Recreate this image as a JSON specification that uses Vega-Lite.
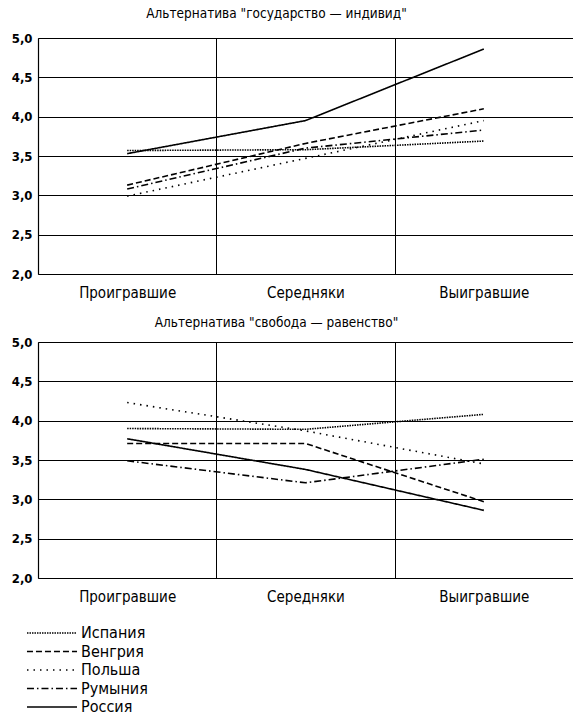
{
  "$schema": "https://vega.github.io/schema/vega-lite/v6.json",
  "padding": {"left": 11, "top": 6, "right": 0, "bottom": 0},
  "datasets": {
    "d": [
      {"alt": "top", "group": "Проигравшие", "country": "Испания", "value": 3.57},
      {"alt": "top", "group": "Середняки", "country": "Испания", "value": 3.58},
      {"alt": "top", "group": "Выигравшие", "country": "Испания", "value": 3.69},
      {"alt": "top", "group": "Проигравшие", "country": "Венгрия", "value": 3.13},
      {"alt": "top", "group": "Середняки", "country": "Венгрия", "value": 3.66},
      {"alt": "top", "group": "Выигравшие", "country": "Венгрия", "value": 4.10},
      {"alt": "top", "group": "Проигравшие", "country": "Польша", "value": 2.99},
      {"alt": "top", "group": "Середняки", "country": "Польша", "value": 3.47},
      {"alt": "top", "group": "Выигравшие", "country": "Польша", "value": 3.95},
      {"alt": "top", "group": "Проигравшие", "country": "Румыния", "value": 3.08},
      {"alt": "top", "group": "Середняки", "country": "Румыния", "value": 3.60},
      {"alt": "top", "group": "Выигравшие", "country": "Румыния", "value": 3.83},
      {"alt": "top", "group": "Проигравшие", "country": "Россия", "value": 3.53},
      {"alt": "top", "group": "Середняки", "country": "Россия", "value": 3.95},
      {"alt": "top", "group": "Выигравшие", "country": "Россия", "value": 4.86},
      {"alt": "bottom", "group": "Проигравшие", "country": "Испания", "value": 3.90},
      {"alt": "bottom", "group": "Середняки", "country": "Испания", "value": 3.89},
      {"alt": "bottom", "group": "Выигравшие", "country": "Испания", "value": 4.08},
      {"alt": "bottom", "group": "Проигравшие", "country": "Венгрия", "value": 3.71},
      {"alt": "bottom", "group": "Середняки", "country": "Венгрия", "value": 3.71},
      {"alt": "bottom", "group": "Выигравшие", "country": "Венгрия", "value": 2.97},
      {"alt": "bottom", "group": "Проигравшие", "country": "Польша", "value": 4.23},
      {"alt": "bottom", "group": "Середняки", "country": "Польша", "value": 3.87},
      {"alt": "bottom", "group": "Выигравшие", "country": "Польша", "value": 3.45},
      {"alt": "bottom", "group": "Проигравшие", "country": "Румыния", "value": 3.49},
      {"alt": "bottom", "group": "Середняки", "country": "Румыния", "value": 3.21},
      {"alt": "bottom", "group": "Выигравшие", "country": "Румыния", "value": 3.51},
      {"alt": "bottom", "group": "Проигравшие", "country": "Россия", "value": 3.77},
      {"alt": "bottom", "group": "Середняки", "country": "Россия", "value": 3.38},
      {"alt": "bottom", "group": "Выигравшие", "country": "Россия", "value": 2.86}
    ]
  },
  "config": {
    "font": "DejaVu Sans Condensed, Liberation Sans, sans-serif",
    "view": {"stroke": null},
    "axis": {
      "labelFont": "DejaVu Sans Condensed, Liberation Sans, sans-serif",
      "labelFontSize": 13,
      "labelFontWeight": "bold",
      "labelColor": "black",
      "gridColor": "black",
      "gridOpacity": 1,
      "gridWidth": 1,
      "domainColor": "black",
      "domainWidth": 1.2,
      "ticks": false,
      "title": null
    },
    "title": {"font": "DejaVu Sans Condensed, Liberation Sans, sans-serif", "fontSize": 13.5, "fontWeight": "normal", "color": "black", "dx": -29},
    "legend": {
      "labelFont": "DejaVu Sans Condensed, Liberation Sans, sans-serif",
      "labelFontSize": 16,
      "labelColor": "black",
      "symbolType": "M-2.78,0H2.78",
      "symbolSize": 324,
      "symbolStrokeColor": "black",
      "symbolStrokeWidth": 1.5,
      "rowPadding": 0.5,
      "labelOffset": 19,
      "padding": 0
    }
  },
  "spacing": 15,
  "resolve": {"legend": {"strokeDash": "independent"}},
  "vconcat": [
    {
      "title": {"text": "Альтернатива \"государство — индивид\"", "offset": 12},
      "width": 535,
      "height": 236,
      "data": {"name": "d"},
      "transform": [{"filter": "datum.alt === 'top'"}],
      "mark": {"type": "line", "color": "black", "strokeWidth": 1.6},
      "encoding": {
        "x": {"field": "group", "type": "nominal", "sort": ["Проигравшие", "Середняки", "Выигравшие"],
              "scale": {"paddingInner": 0, "paddingOuter": 0},
              "axis": {"labelAngle": 0, "tickBand": "extent", "grid": true, "domain": false, "labelPadding": 11, "labelFontWeight": "normal", "labelFontSize": 15}},
        "y": {"field": "value", "type": "quantitative", "scale": {"domain": [2, 5], "nice": false, "zero": false},
              "axis": {"values": [2, 2.5, 3, 3.5, 4, 4.5, 5], "labelExpr": "replace(format(datum.value, '.1f'), '.', ',')", "labelPadding": 6}},
        "strokeDash": {"field": "country", "type": "nominal",
              "scale": {"domain": ["Испания", "Венгрия", "Польша", "Румыния", "Россия"],
                        "range": [[1.5, 1], [6, 3], [1.5, 5], [7, 3, 1.5, 3], [1, 0]]},
              "legend": null},
        "strokeWidth": {"condition": {"test": "datum.country === 'Россия'", "value": 2.2}, "value": 1.6}
      }
    },
    {
      "title": {"text": "Альтернатива \"свобода — равенство\"", "offset": 7},
      "width": 535,
      "height": 236,
      "data": {"name": "d"},
      "transform": [{"filter": "datum.alt === 'bottom'"}],
      "mark": {"type": "line", "color": "black", "strokeWidth": 1.6},
      "encoding": {
        "x": {"field": "group", "type": "nominal", "sort": ["Проигравшие", "Середняки", "Выигравшие"],
              "scale": {"paddingInner": 0, "paddingOuter": 0},
              "axis": {"labelAngle": 0, "tickBand": "extent", "grid": true, "domain": false, "labelPadding": 11, "labelFontWeight": "normal", "labelFontSize": 15}},
        "y": {"field": "value", "type": "quantitative", "scale": {"domain": [2, 5], "nice": false, "zero": false},
              "axis": {"values": [2, 2.5, 3, 3.5, 4, 4.5, 5], "labelExpr": "replace(format(datum.value, '.1f'), '.', ',')", "labelPadding": 6}},
        "strokeDash": {"field": "country", "type": "nominal",
              "scale": {"domain": ["Испания", "Венгрия", "Польша", "Румыния", "Россия"],
                        "range": [[1.5, 1], [6, 3], [1.5, 5], [7, 3, 1.5, 3], [1, 0]]},
              "legend": {"title": null, "orient": "none", "legendX": 4, "legendY": 281, "direction": "vertical"}},
        "strokeWidth": {"condition": {"test": "datum.country === 'Россия'", "value": 2.2}, "value": 1.6}
      }
    }
  ]
}
